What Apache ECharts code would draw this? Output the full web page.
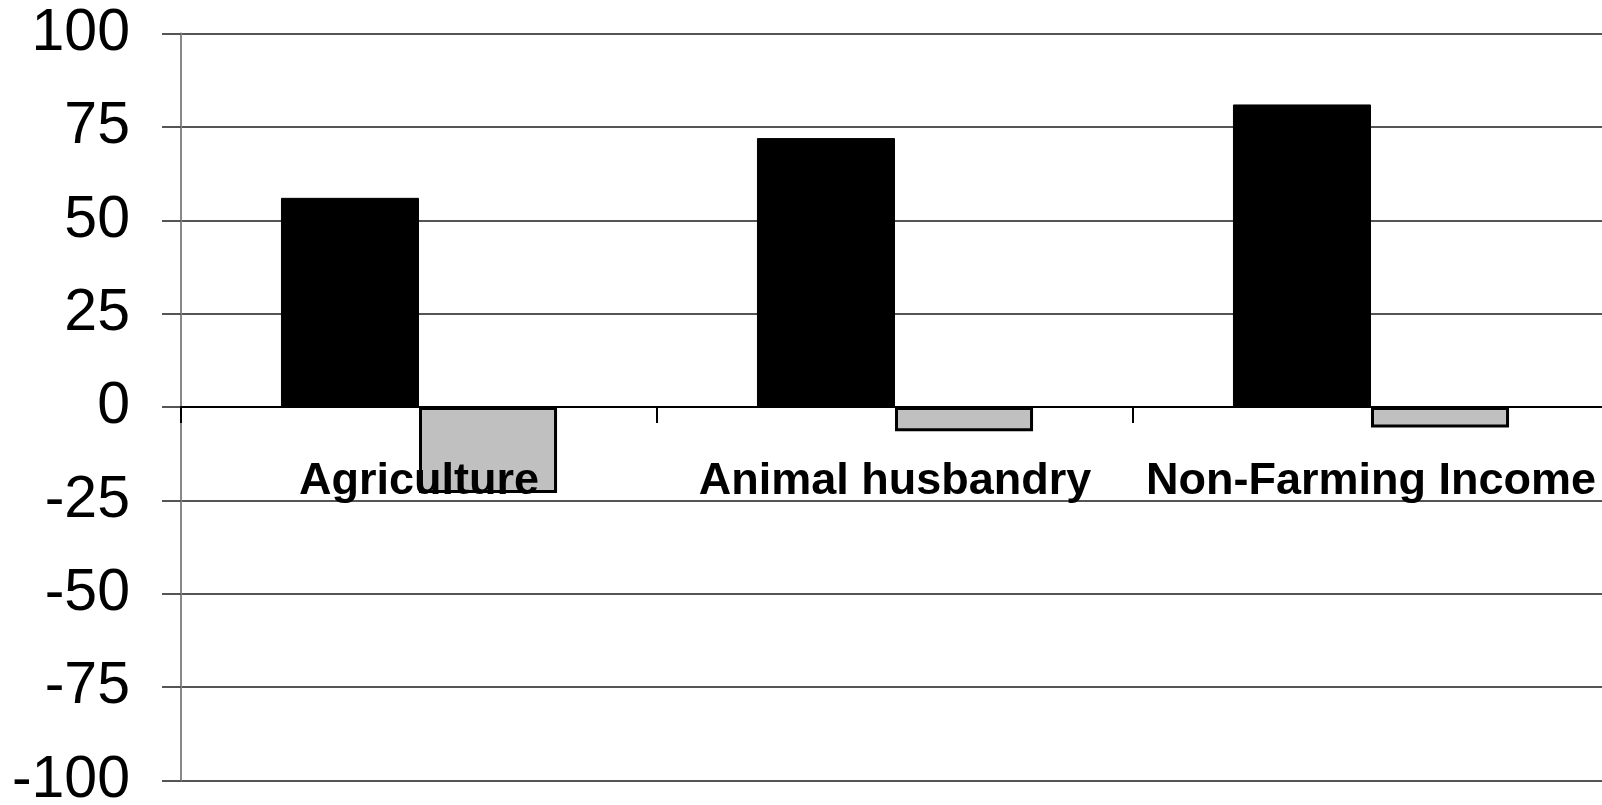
<!DOCTYPE html>
<html>
<head>
<meta charset="utf-8">
<script src="https://cdn.jsdelivr.net/npm/echarts@6/dist/echarts.min.js"></script>
<style>
html, body { margin: 0; padding: 0; background: #fff; }
#chart { width: 1602px; height: 805px; }
</style>
</head>
<body>
<div id="chart"></div>
<script>
const categories = ['Agriculture', 'Animal husbandry', 'Non-Farming Income'];
const seriesA = [56, 72, 81];
const seriesB = [-23, -6.5, -5.5];
const yTicks = { min: -100, max: 100, interval: 25 };

const FONT = '"Liberation Sans", Arial, Helvetica, sans-serif';
const PLOT_TOP = 33.5, PLOT_BOTTOM = 24.5;
const ZERO_Y = PLOT_TOP + (805 - PLOT_TOP - PLOT_BOTTOM) / 2;

const chart = echarts.init(document.getElementById('chart'), null, { renderer: 'canvas' });
chart.setOption({
  animation: false,
  backgroundColor: '#ffffff',
  grid: [
    { left: 181, right: -7, top: PLOT_TOP, bottom: PLOT_BOTTOM, containLabel: false, outerBoundsMode: 'none' },
    { left: 181, right: -7, top: PLOT_TOP, height: ZERO_Y - PLOT_TOP, containLabel: false, outerBoundsMode: 'none' }
  ],
  xAxis: [
    {
      type: 'category',
      gridIndex: 0,
      data: categories,
      z: 10,
      axisLine: { onZero: true, lineStyle: { color: '#000', width: 2 } },
      axisTick: { show: true, length: 16, lineStyle: { color: '#000', width: 2 } },
      axisLabel: { show: false },
      splitLine: { show: false }
    },
    {
      type: 'category',
      gridIndex: 1,
      position: 'bottom',
      data: categories,
      z: 10,
      axisLine: { show: false },
      axisTick: { show: false },
      axisLabel: {
        show: true,
        interval: 0,
        hideOverlap: false,
        margin: 52,
        fontFamily: FONT,
        fontWeight: 'bold',
        fontSize: 45,
        color: '#000'
      },
      splitLine: { show: false }
    }
  ],
  yAxis: [
    {
      type: 'value',
      gridIndex: 0,
      min: yTicks.min,
      max: yTicks.max,
      interval: yTicks.interval,
      axisLine: { show: true, lineStyle: { color: '#888', width: 2 } },
      axisTick: { show: true, length: 19, lineStyle: { color: '#555', width: 2 } },
      axisLabel: {
        margin: 51,
        fontFamily: FONT,
        fontSize: 59,
        color: '#000'
      },
      splitLine: { show: true, lineStyle: { color: '#555', width: 2 } }
    },
    {
      type: 'value',
      gridIndex: 1,
      show: false
    }
  ],
  series: [
    {
      type: 'bar',
      data: seriesA,
      barGap: '0%',
      barCategoryGap: '42%',
      itemStyle: { color: '#000', borderColor: '#000', borderWidth: 1 }
    },
    {
      type: 'bar',
      data: seriesB,
      itemStyle: { color: '#c0c0c0', borderColor: '#000', borderWidth: 3 }
    }
  ]
});
</script>
</body>
</html>
